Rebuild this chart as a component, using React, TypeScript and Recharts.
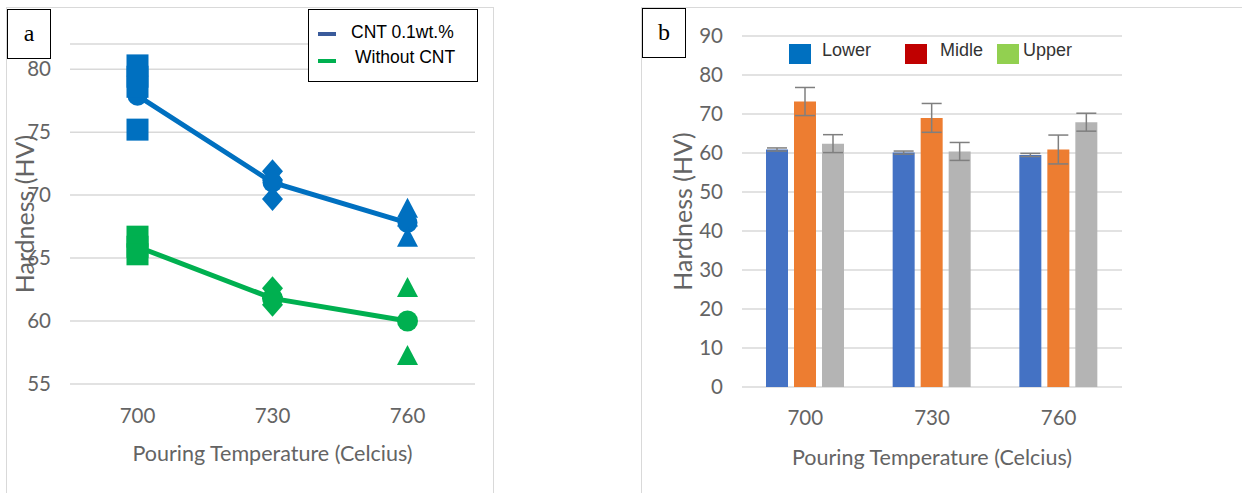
import { ComposedChart, Line, Bar, ErrorBar, XAxis, YAxis, CartesianGrid, Label } from "recharts";

// Two panels: (a) hardness vs pouring temperature with individual readings,
// (b) hardness per zone (lower / midle / upper) as grouped bars with error bars.

const FONT = "Lato, 'Open Sans', sans-serif";
const GRID = "#d9d9d9";
const TICK = "#646464";
const BLUE = "#0070C0";
const GREEN = "#00B050";

const TEMPS = ["700", "730", "760"];

// (a) mean line + individual readings per temperature
const CNT_MEAN = [77.9, 71.0, 67.8];
const NO_CNT_MEAN = [65.9, 61.8, 60.0];
const CNT_POINTS = [
  [80.3, 79.4, 78.6, 75.2],
  [71.9, 71.2, 69.7],
  [69.0, 68.3, 66.7],
];
const NO_CNT_POINTS = [
  [66.7, 65.9, 65.3],
  [62.6, 61.9, 61.3],
  [62.7, 57.3],
];
const A_TICKS = [55, 60, 65, 70, 75, 80];
const SHAPES = ["square", "diamond", "triangle"];

// (b) zones
const LOWER = [60.9, 60.1, 59.5];
const LOWER_ERR = [0.4, 0.4, 0.4];
const MIDLE = [73.2, 69.0, 60.9];
const MIDLE_ERR = [3.6, 3.7, 3.7];
const UPPER = [62.4, 60.4, 67.9];
const UPPER_ERR = [2.3, 2.3, 2.3];
const B_TICKS = [0, 10, 20, 30, 40, 50, 60, 70, 80, 90];

const dataA = TEMPS.map((t, i) => {
  const row: Record<string, string | number> = { t, cnt: CNT_MEAN[i], wo: NO_CNT_MEAN[i] };
  CNT_POINTS[i].forEach((v, j) => (row[`c${j}`] = v));
  NO_CNT_POINTS[i].forEach((v, j) => (row[`w${j}`] = v));
  return row;
});

const dataB = TEMPS.map((t, i) => ({
  t,
  lower: LOWER[i],
  lowerErr: LOWER_ERR[i],
  midle: MIDLE[i],
  midleErr: MIDLE_ERR[i],
  upper: UPPER[i],
  upperErr: UPPER_ERR[i],
}));

const tickStyle = { fill: TICK, fontSize: 20.5, fontFamily: FONT };
const titleStyle = { fill: TICK, fontSize: 21.5, fontFamily: FONT };
const yTitleStyle = { fill: TICK, fontSize: 25, fontFamily: FONT, textAnchor: "middle" as const };

// marcador según la temperatura: cuadrado, rombo, triángulo
function marker(color: string) {
  // eslint-disable-next-line @typescript-eslint/no-explicit-any
  return (p: any) => {
    const { cx, cy, index, value } = p;
    const k = `${p.dataKey}-${index}`;
    if (value == null || cx == null || cy == null || Number.isNaN(cy)) return <g key={k} />;
    const kind = SHAPES[index];
    if (kind === "square")
      return <rect key={k} x={cx - 11} y={cy - 11} width={22} height={22} fill={color} />;
    if (kind === "diamond")
      return (
        <polygon
          key={k}
          points={`${cx},${cy - 12} ${cx + 10.5},${cy} ${cx},${cy + 12} ${cx - 10.5},${cy}`}
          fill={color}
        />
      );
    return (
      <polygon
        key={k}
        points={`${cx},${cy - 10} ${cx + 10.5},${cy + 10} ${cx - 10.5},${cy + 10}`}
        fill={color}
      />
    );
  };
}

const boxLabel = (left: number, top: number, text: string) => (
  <div
    style={{
      position: "absolute",
      left,
      top,
      width: 44,
      height: 50,
      border: "1.5px solid #000",
      boxSizing: "border-box",
      background: "#fff",
      fontFamily: "'Liberation Serif', serif",
      fontSize: 24,
      lineHeight: "46px",
      textAlign: "center",
    }}
  >
    {text}
  </div>
);

const swatch = (left: number, color: string) => (
  <div style={{ position: "absolute", left, top: 44, width: 22, height: 20, background: color }} />
);

const legText = (left: number, text: string) => (
  <div
    style={{
      position: "absolute",
      left,
      top: 38,
      fontFamily: "'Liberation Sans', Arial, sans-serif",
      fontSize: 18,
      color: "#333",
      lineHeight: "24px",
    }}
  >
    {text}
  </div>
);

export default function App() {
  return (
    <div
      style={{
        position: "absolute",
        left: 0,
        top: 0,
        width: 1242,
        height: 493,
        background: "#fff",
        overflow: "hidden",
      }}
    >
      <div
        style={{
          position: "absolute",
          left: 6,
          top: 7,
          width: 488,
          height: 520,
          border: `1.5px solid ${GRID}`,
          boxSizing: "border-box",
        }}
      />
      <div
        style={{
          position: "absolute",
          left: 641,
          top: 7,
          width: 700,
          height: 520,
          border: `1.5px solid ${GRID}`,
          boxSizing: "border-box",
        }}
      />

      <div style={{ position: "absolute", left: 0, top: 0 }}>
        <ComposedChart
          width={492}
          height={493}
          data={dataA}
          margin={{ top: 44, right: 17, bottom: 47, left: 0 }}
        >
          <CartesianGrid vertical={false} stroke={GRID} strokeWidth={1.5} />
          <XAxis
            dataKey="t"
            scale="band"
            axisLine={false}
            tickLine={false}
            tickSize={0}
            tickMargin={24}
            height={62}
            tick={tickStyle}
          >
            <Label value="Pouring Temperature (Celcius)" position="bottom" offset={0} style={titleStyle} />
          </XAxis>
          <YAxis
            type="number"
            domain={[55, 82]}
            ticks={A_TICKS}
            width={70}
            axisLine={false}
            tickLine={false}
            tickSize={0}
            tickMargin={19}
            tick={tickStyle}
          >
            <Label value="Hardness (HV)" angle={-90} position="insideLeft" offset={25} style={yTitleStyle} />
          </YAxis>
          <Line
            dataKey="cnt"
            stroke={BLUE}
            strokeWidth={5}
            dot={{ r: 10, fill: BLUE, stroke: "none" }}
            activeDot={false}
            isAnimationActive={false}
          />
          <Line
            dataKey="wo"
            stroke={GREEN}
            strokeWidth={5}
            dot={{ r: 10.5, fill: GREEN, stroke: "none" }}
            activeDot={false}
            isAnimationActive={false}
          />
          {[0, 1, 2, 3].map((j) => (
            <Line
              key={`c${j}`}
              dataKey={`c${j}`}
              stroke="none"
              dot={marker(BLUE)}
              activeDot={false}
              isAnimationActive={false}
            />
          ))}
          {[0, 1, 2].map((j) => (
            <Line
              key={`w${j}`}
              dataKey={`w${j}`}
              stroke="none"
              dot={marker(GREEN)}
              activeDot={false}
              isAnimationActive={false}
            />
          ))}
        </ComposedChart>
      </div>

      <div style={{ position: "absolute", left: 620, top: 0 }}>
        <ComposedChart
          width={622}
          height={493}
          data={dataB}
          margin={{ top: 36, right: 120, bottom: 43, left: 0 }}
          barSize={22}
          barGap={6}
        >
          <CartesianGrid vertical={false} stroke={GRID} strokeWidth={1.5} />
          <XAxis
            dataKey="t"
            axisLine={false}
            tickLine={false}
            tickSize={0}
            tickMargin={23}
            height={63}
            tick={tickStyle}
          >
            <Label value="Pouring Temperature (Celcius)" position="bottom" offset={0} style={titleStyle} />
          </XAxis>
          <YAxis
            type="number"
            domain={[0, 90]}
            ticks={B_TICKS}
            width={122}
            axisLine={false}
            tickLine={false}
            tickSize={0}
            tickMargin={19}
            tick={tickStyle}
          >
            <Label value="Hardness (HV)" angle={-90} position="insideLeft" offset={63} style={yTitleStyle} />
          </YAxis>
          <Bar dataKey="lower" fill="#4472C4" isAnimationActive={false}>
            <ErrorBar dataKey="lowerErr" width={10} stroke="#7f7f7f" strokeWidth={1.5} direction="y" />
          </Bar>
          <Bar dataKey="midle" fill="#ED7D31" isAnimationActive={false}>
            <ErrorBar dataKey="midleErr" width={10} stroke="#7f7f7f" strokeWidth={1.5} direction="y" />
          </Bar>
          <Bar dataKey="upper" fill="#B4B4B4" isAnimationActive={false}>
            <ErrorBar dataKey="upperErr" width={10} stroke="#7f7f7f" strokeWidth={1.5} direction="y" />
          </Bar>
        </ComposedChart>
      </div>

      {boxLabel(7, 9, "a")}
      {boxLabel(642, 8, "b")}

      {/* legend (a) */}
      <div
        style={{
          position: "absolute",
          left: 308,
          top: 9,
          width: 170,
          height: 73,
          border: "1.5px solid #000",
          boxSizing: "border-box",
          background: "#fff",
          fontFamily: "'Liberation Sans', Arial, sans-serif",
          fontSize: 17.5,
          color: "#000",
        }}
      >
        <div style={{ position: "absolute", left: 9, top: 22, width: 18, height: 4, background: "#3A5B9B" }} />
        <div style={{ position: "absolute", left: 9, top: 49, width: 18, height: 4, background: GREEN }} />
        <div style={{ position: "absolute", left: 42, top: 11, lineHeight: "22px" }}>CNT 0.1wt.%</div>
        <div style={{ position: "absolute", left: 46, top: 36, lineHeight: "22px" }}>Without CNT</div>
      </div>

      {/* legend (b) */}
      {swatch(789, "#0070C0")}
      {legText(822, "Lower")}
      {swatch(905, "#C00000")}
      {legText(940, "Midle")}
      {swatch(997, "#92D050")}
      {legText(1023, "Upper")}
    </div>
  );
}
